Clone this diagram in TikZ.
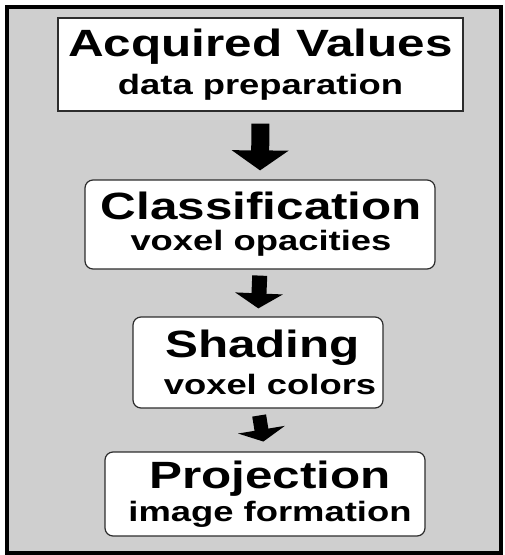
\documentclass[tikz,border=0pt]{standalone}
\usepackage{fontspec}
\usepackage{graphicx}
\setmainfont{Liberation Sans}
\usetikzlibrary{arrows.meta}
\definecolor{PanelGray}{RGB}{207, 207, 207}
\definecolor{EdgeGray}{RGB}{45, 45, 45}
\newcommand{\stagetitle}[1]{\scalebox{1.3}[1]{\fontsize{38}{38}\selectfont\bfseries #1}}
\newcommand{\stagenote}[1]{\scalebox{1.3}[1]{\fontsize{28}{28}\selectfont\bfseries #1}}

\begin{document}
\begin{tikzpicture}[x=1pt, y=-1pt,
    stage/.style={draw=EdgeGray, line width=1.2pt, fill=white, align=center,
                  inner sep=0pt, font=\fontsize{28}{#1}\selectfont}]
    \useasboundingbox (0,0) rectangle (505,555);

    % Panel de fondo con borde grueso
    \draw[line width=4pt, fill=PanelGray] (7,6.5) rectangle (501,552.5);

    % Etapas del pipeline
    \node[stage=38pt, minimum width=405pt, minimum height=93pt] (acq) at (260.5,64.5)
        {\stagetitle{Acquired Values}\\\stagenote{data preparation}};
    \node[stage=31pt, rounded corners=8pt, minimum width=350pt, minimum height=89pt] (cls) at (260,224.5)
        {\hspace*{3pt}\stagetitle{Classification}\\\hspace*{2pt}\stagenote{voxel opacities}};
    \node[stage=37pt, rounded corners=8pt, minimum width=250pt, minimum height=91pt] (shd) at (258,362.5)
        {\hspace*{9pt}\stagetitle{Shading}\\\hspace*{24pt}\stagenote{voxel colors}};
    \node[stage=33pt, rounded corners=8pt, minimum width=320pt, minimum height=84pt] (prj) at (265,494)
        {\hspace*{10pt}\stagetitle{Projection}\\\hspace*{10pt}\stagenote{image formation}};

    % Flechas gruesas entre etapas
    \draw[line width=18pt, -{Triangle[width=56pt, length=20pt]}, shorten <=12pt, shorten >=9pt]
        (acq.south) -- (cls.north);
    \draw[line width=15pt, -{Triangle[width=47pt, length=15pt]}, shorten <=6pt, shorten >=8pt]
        (cls.south) -- (shd.north);
    \draw[line width=14pt, -{Triangle[width=47pt, length=12pt]}, shorten <=7pt, shorten >=10pt]
        (shd.south) -- (prj.north);
\end{tikzpicture}
\end{document}
